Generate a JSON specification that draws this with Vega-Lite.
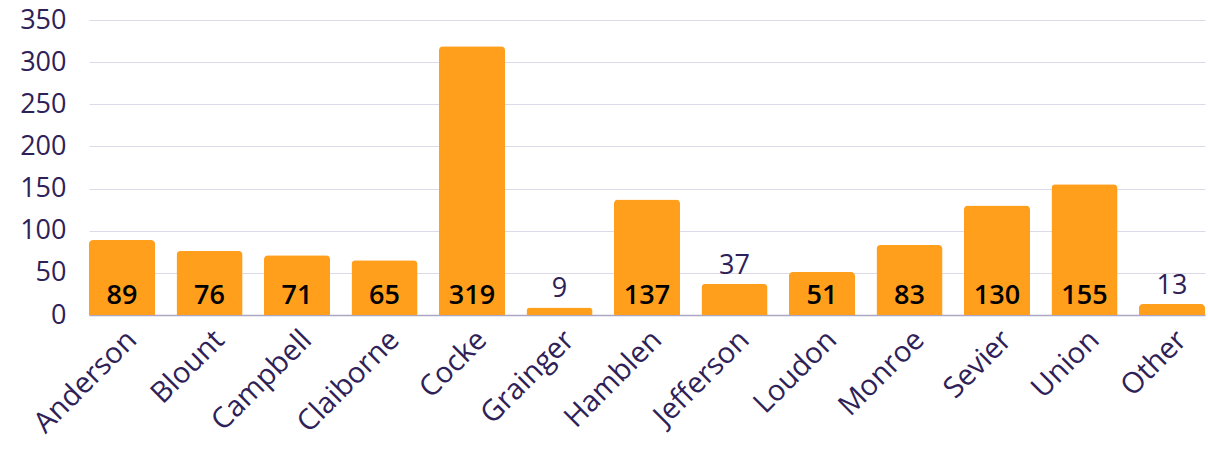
{
  "$schema": "https://vega.github.io/schema/vega-lite/v6.json",
  "autosize": {"type": "none"},
  "width": 1116,
  "height": 295,
  "padding": {"left": 89, "top": 20, "right": 3, "bottom": 136},
  "config": {"view": {"stroke": null}, "font": "Open Sans"},
  "data": {"values": [
    {"county": "Anderson", "value": 89},
    {"county": "Blount", "value": 76},
    {"county": "Campbell", "value": 71},
    {"county": "Claiborne", "value": 65},
    {"county": "Cocke", "value": 319},
    {"county": "Grainger", "value": 9},
    {"county": "Hamblen", "value": 137},
    {"county": "Jefferson", "value": 37},
    {"county": "Loudon", "value": 51},
    {"county": "Monroe", "value": 83},
    {"county": "Sevier", "value": 130},
    {"county": "Union", "value": 155},
    {"county": "Other", "value": 13}
  ]},
  "encoding": {
    "x": {"field": "county", "type": "nominal", "sort": null,
      "scale": {"paddingInner": 0.245, "paddingOuter": 0},
      "axis": {"title": null, "labelAngle": -45, "labelFontSize": 29, "labelColor": "#2E2157",
        "ticks": false, "domain": true, "domainColor": "#ABA6C4", "domainWidth": 1.5, "labelPadding": 10}},
    "y": {"field": "value", "type": "quantitative",
      "scale": {"domain": [0, 350], "nice": false},
      "axis": {"title": null, "values": [0, 50, 100, 150, 200, 250, 300, 350], "labelFontSize": 27,
        "labelColor": "#2E2157", "ticks": false, "domain": false, "gridColor": "#DCDAE8", "labelPadding": 23}}
  },
  "layer": [
    {"mark": {"type": "bar", "color": "#FF9F1C", "cornerRadiusTopLeft": 4, "cornerRadiusTopRight": 4}},
    {"transform": [{"filter": "datum.value >= 40"}],
      "mark": {"type": "text", "fontSize": 27, "fontWeight": 600, "color": "#000000", "baseline": "alphabetic", "dy": -11},
      "encoding": {"y": {"datum": 0}, "text": {"field": "value"}}},
    {"transform": [{"filter": "datum.value < 40"}],
      "mark": {"type": "text", "fontSize": 27, "color": "#2E2157", "baseline": "alphabetic", "dy": -10},
      "encoding": {"text": {"field": "value"}}}
  ]
}
